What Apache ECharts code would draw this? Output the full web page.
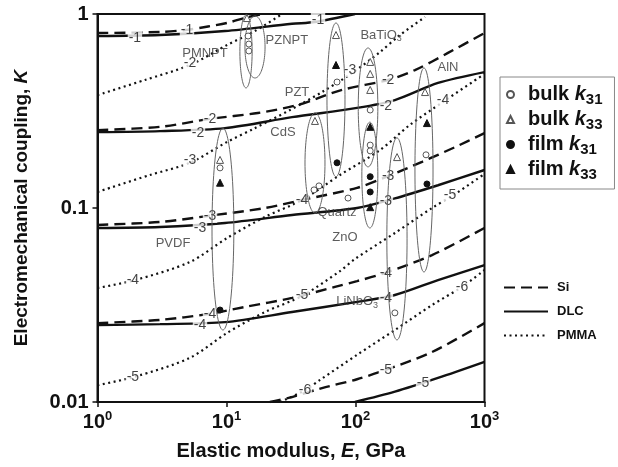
<!DOCTYPE html>
<html><head><meta charset="utf-8">
<script src="https://cdn.jsdelivr.net/npm/echarts@6/dist/echarts.min.js"></script>
<style>html,body{margin:0;padding:0;background:#fff}#c{width:618px;height:467px}</style>
</head><body><div id="c"></div>
<script>
// ---------- tick labels ----------
const xTickLabels = ['10{s|0}', '10{s|1}', '10{s|2}', '10{s|3}'];
const yTickLabels = ['0.01', '0.1', '1'];

// ---------- Si (dashed) curves [E GPa, K] ----------
const siM1 = [[1,0.798],[3.05,0.808],[5.0,0.830],[7.19,0.862],[10.1,0.899],[13.9,0.955],[19.0,1.0]];
const siM2 = [[1,0.252],[3.05,0.262],[7.45,0.288],[17.5,0.309],[35.8,0.340],[78.6,0.406],[179,0.457],[289,0.514],[521,0.630],[1000,0.798]];
const siM3 = [[1,0.0818],[3.05,0.0847],[7.19,0.0910],[19.9,0.1],[38.5,0.110],[102.8,0.127],[175,0.145],[328,0.173],[591,0.206],[1000,0.243]];
const siM4 = [[1,0.0255],[3.05,0.0265],[7.19,0.0284],[13.9,0.0309],[32.2,0.0344],[69.3,0.0392],[102.8,0.0420],[169,0.0462],[392,0.0572],[1000,0.0789]];
const siM5 = [[21.7,0.01],[32.2,0.0106],[55.0,0.0118],[102.8,0.0131],[169,0.0146],[392,0.0181],[1000,0.0255]];

// ---------- DLC (solid) curves ----------
const dlcM1 = [[1,0.770],[3.05,0.779],[9.73,0.817],[32.2,0.89],[48.5,0.909],[99,1.0]];
const dlcM2 = [[1,0.246],[3.05,0.249],[9.73,0.258],[32.2,0.294],[102.8,0.328],[202,0.360],[436,0.441],[1000,0.502]];
const dlcM3 = [[1,0.0789],[3.05,0.0798],[9.73,0.0837],[32.2,0.0920],[102.8,0.1],[202,0.112],[436,0.131],[1000,0.157]];
const dlcM4 = [[1,0.0249],[3.05,0.0252],[9.73,0.0258],[32.2,0.0291],[102.8,0.0328],[202,0.0356],[436,0.0425],[1000,0.0508]];
const dlcM5 = [[99.1,0.01],[202,0.0113],[436,0.0133],[1000,0.0161]];

// ---------- PMMA (dotted) curves ----------
const pmmaM2 = [[1,0.382],[2.33,0.457],[5.21,0.546],[10.1,0.692],[16.6,0.817],[27,1.0]];
const pmmaM3 = [[1,0.121],[2.55,0.148],[5.21,0.171],[10.1,0.219],[16.6,0.258],[31.1,0.320],[55.0,0.396],[94,0.496],[155,0.637],[221,0.779],[346,0.965]];
const pmmaM4 = [[1,0.0387],[1.95,0.0425],[5.21,0.0527],[10.1,0.0700],[19.9,0.0900],[38.5,0.110],[75.8,0.148],[155,0.199],[264,0.268],[476,0.352],[1000,0.491]];
const pmmaM5 = [[1,0.0122],[1.95,0.0135],[5.21,0.0169],[10.1,0.0227],[19.9,0.0291],[38.5,0.0352],[75.8,0.0473],[99.1,0.0546],[202,0.0743],[392,0.1],[591,0.118],[1000,0.150]];
const pmmaM6 = [[26.0,0.01],[40.6,0.0115],[53.1,0.0130],[102.8,0.0175],[202,0.0235],[392,0.0316],[669,0.0392],[1000,0.0479]];

// ---------- curve labels [E, K, text] ----------
const siLabels = [[4.94,0.825,'-1'],[7.45,0.288,'-2'],[7.45,0.0910,'-3'],[7.45,0.0284,'-4'],[179,0.457,'-2'],[179,0.146,'-3'],[172,0.0462,'-4'],[172,0.0146,'-5']];
const dlcLabels = [[1.95,0.752,'-1'],[6.01,0.243,'-2'],[6.23,0.0789,'-3'],[6.23,0.0249,'-4'],[51.2,0.931,'-1'],[172,0.336,'-2'],[172,0.109,'-3'],[172,0.0344,'-4'],[334,0.0125,'-5']];
const pmmaLabels = [[5.21,0.559,'-2'],[5.21,0.177,'-3'],[1.88,0.0425,'-4'],[1.88,0.0135,'-5'],[90.7,0.514,'-3'],[38.5,0.110,'-4'],[38.5,0.0356,'-5'],[40.6,0.0115,'-6'],[477,0.360,'-4'],[540,0.117,'-5'],[669,0.0392,'-6']];

// ---------- materials ----------
const materialNames = ['PMNPT','PZNPT','BaTiO3','PZT','CdS','AlN','Quartz','ZnO','PVDF','LiNbO3'];
const materialLabelE = [6.81,29.4,158,35.2,27.4,521,71.9,82.9,3.85,103];
const materialLabelK = [0.630,0.734,0.780,0.392,0.246,0.533,0.0954,0.0709,0.0660,0.0328];

// ellipse extents [Emin, Emax, Kmin, Kmax]
const ellipseNames = ['PMNPT','PZNPT','PVDF','CdS','PZT','BaTiO3','ZnO','LiNbO3','AlN'];
const ellipseBounds = [
  [12.7,15.8,0.416,0.988],
  [13.9,19.9,0.468,0.977],
  [7.72,11.4,0.0235,0.258],
  [40.6,58.0,0.0942,0.309],
  [60.1,82.9,0.145,0.899],
  [105,149,0.163,0.668],
  [112,149,0.0789,0.277],
  [175,251,0.0209,0.230],
  [289,399,0.0468,0.527]
];

const bulkK31 = [[14.7,0.770],[14.9,0.700],[14.9,0.645],[8.91,0.161],[47.7,0.124],[52.1,0.130],[71.9,0.446],[87.5,0.1125],[130,0.320],[130,0.211],[130,0.197],[202,0.0288],[352,0.188]];
const bulkK33 = [[14.4,0.953],[8.91,0.177],[48.5,0.281],[70.6,0.779],[130,0.566],[130,0.491],[130,0.406],[210,0.183],[346,0.396]];
const filmK31 = [[8.91,0.0298],[71.9,0.171],[130,0.145],[130,0.121],[358,0.133]];
const filmK33 = [[8.91,0.135],[70.6,0.546],[130,0.262],[130,0.101],[358,0.274]];

const seriesNames = ['bulk k31','bulk k33','film k31','film k33'];
const lineNames = ['Si','DLC','PMMA'];

// ---------- build ----------
const FONT = "'Liberation Sans', Arial, sans-serif";
const chart = echarts.init(document.getElementById('c'));

const families = [
  {name:'Si', curves:[siM1,siM2,siM3,siM4,siM5], type:[11,6], width:2.4},
  {name:'DLC', curves:[dlcM1,dlcM2,dlcM3,dlcM4,dlcM5], type:'solid', width:2.4},
  {name:'PMMA', curves:[pmmaM2,pmmaM3,pmmaM4,pmmaM5,pmmaM6], type:[2,3.5], width:2.2}
];

const series = [];
families.forEach(f => f.curves.forEach(c => series.push({
  type:'line', name:f.name, data:c, symbol:'none', showSymbol:false, smooth:0.3, z:2,
  silent:true, animation:false,
  lineStyle:{color:'#111', width:f.width, type:f.type}
})));

function labelSeries(arr){
  return {
    type:'scatter', data:arr, symbolSize:1, itemStyle:{color:'rgba(0,0,0,0)'}, z:3, silent:true, animation:false,
    label:{show:true, position:'inside', formatter:p=>p.data[2], fontFamily:FONT, fontSize:14,
      color:'#111', backgroundColor:'#fff', padding:[0,1,0,1]}
  };
}
series.push(labelSeries(siLabels), labelSeries(dlcLabels), labelSeries(pmmaLabels));

series.push({
  type:'custom', name:'ellipses', data:ellipseBounds, z:4, silent:true, animation:false,
  encode:{x:[0,1], y:[2,3]},
  renderItem(params, api){
    const p1 = api.coord([api.value(0), api.value(3)]);
    const p2 = api.coord([api.value(1), api.value(2)]);
    const cx=(p1[0]+p2[0])/2, cy=(p1[1]+p2[1])/2, rx=Math.abs(p2[0]-p1[0])/2, ry=Math.abs(p2[1]-p1[1])/2;
    const pts=[];
    for(let i=0;i<90;i++){const t=i/90*2*Math.PI; pts.push([cx+rx*Math.cos(t), cy+ry*Math.sin(t)]);}
    return {type:'polygon', shape:{points:pts}, style:{fill:'none', stroke:'#666', lineWidth:1}};
  }
});

const markerDefs = [
  {name:seriesNames[0], data:bulkK31, symbol:'circle', size:6, fill:'#fff', stroke:'#555'},
  {name:seriesNames[1], data:bulkK33, symbol:'triangle', size:7, fill:'#fff', stroke:'#555'},
  {name:seriesNames[2], data:filmK31, symbol:'circle', size:6, fill:'#111', stroke:'#111'},
  {name:seriesNames[3], data:filmK33, symbol:'triangle', size:7, fill:'#111', stroke:'#111'}
];
markerDefs.forEach(m => series.push({
  type:'scatter', name:m.name, data:m.data, symbol:m.symbol, symbolSize:m.size, z:5, animation:false,
  itemStyle:{color:m.fill, borderColor:m.stroke, borderWidth:1, opacity:1}
}));

series.push({
  type:'scatter', data:materialNames.map((n,i)=>[materialLabelE[i], materialLabelK[i], n]),
  symbolSize:1, itemStyle:{color:'rgba(0,0,0,0)'}, z:6, silent:true, animation:false,
  label:{show:true, position:'inside', fontFamily:FONT, fontSize:13, color:'#333',
    formatter:p=>p.data[2].replace(/O3$/, 'O{s|3}'),
    rich:{s:{fontSize:9, fontFamily:FONT, color:'#333', padding:[7,0,0,0], lineHeight:15}}}
});

chart.setOption({
  animation:false,
  backgroundColor:'#fff',
  grid:{left:97.5, right:133.5, top:14, bottom:65, show:true, borderColor:'#111', borderWidth:2},
  xAxis:{
    type:'log', logBase:10, min:1, max:1000,
    name:'Elastic modulus, {i|E}, GPa', nameLocation:'middle', nameGap:39,
    nameTextStyle:{fontFamily:FONT, fontSize:20, fontWeight:'bold', color:'#111',
      rich:{i:{fontFamily:FONT, fontSize:20, fontWeight:'bold', fontStyle:'italic', color:'#111'}}},
    axisLine:{lineStyle:{color:'#111', width:2}},
    axisTick:{show:true, inside:false, length:5, lineStyle:{color:'#111', width:1.5}},
    minorTick:{show:false}, splitLine:{show:false},
    axisLabel:{margin:10, fontFamily:FONT, fontSize:20, fontWeight:'bold', color:'#111',
      formatter:v=>xTickLabels[Math.round(Math.log10(v))],
      rich:{s:{fontFamily:FONT, fontSize:13, fontWeight:'bold', color:'#111', padding:[0,0,12,0], lineHeight:20}}}
  },
  yAxis:{
    type:'log', logBase:10, min:0.01, max:1,
    name:'Electromechanical coupling, {i|K}', nameLocation:'middle', nameGap:66,
    nameTextStyle:{fontFamily:FONT, fontSize:19, fontWeight:'bold', color:'#111',
      rich:{i:{fontFamily:FONT, fontSize:19, fontWeight:'bold', fontStyle:'italic', color:'#111'}}},
    axisLine:{lineStyle:{color:'#111', width:2}},
    axisTick:{show:true, inside:false, length:5, lineStyle:{color:'#111', width:1.5}},
    minorTick:{show:false}, splitLine:{show:false},
    axisLabel:{margin:9, fontFamily:FONT, fontSize:20, fontWeight:'bold', color:'#111',
      formatter:v=>yTickLabels[Math.round(Math.log10(v))+2]}
  },
  legend:[
    {
      data:seriesNames, orient:'vertical', left:500, top:77,
      padding:[5,12,7,6], itemGap:0, itemWidth:7, itemHeight:7,
      borderColor:'#888', borderWidth:1, backgroundColor:'#fff',
      formatter:n=>{const p=n.split(' '); return '{n|'+p[0]+' }{i|k}{s|'+p[1].slice(1)+'}';},
      textStyle:{fontFamily:FONT, fontSize:20, fontWeight:'bold', color:'#111', padding:[0,0,0,9],
        rich:{
          n:{fontFamily:FONT, fontSize:20, fontWeight:'bold', color:'#111', lineHeight:22},
          i:{fontFamily:FONT, fontSize:20, fontWeight:'bold', fontStyle:'italic', color:'#111', lineHeight:22},
          s:{fontFamily:FONT, fontSize:15, fontWeight:'bold', color:'#111', padding:[10,0,0,0], lineHeight:22}
        }}
    },
    {
      data:lineNames, orient:'vertical', left:503, top:281,
      padding:0, itemGap:11, itemWidth:44, itemHeight:12,
      itemStyle:{opacity:0},
      textStyle:{fontFamily:FONT, fontSize:13, fontWeight:'bold', color:'#111', padding:[0,0,0,4]}
    }
  ],
  series:series
});
</script>
</body></html>
